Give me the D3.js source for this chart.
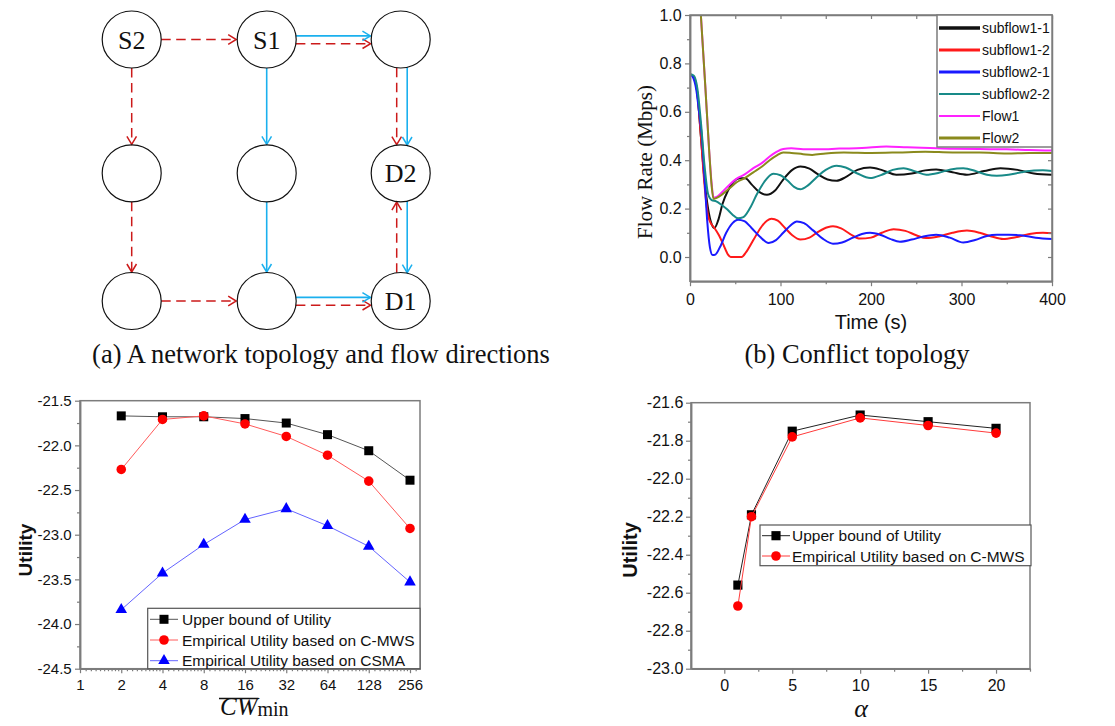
<!DOCTYPE html>
<html>
<head>
<meta charset="utf-8">
<script src="https://cdn.jsdelivr.net/npm/d3@7"></script>
<style>
  body { margin: 0; background: #fff; }
  svg { display: block; }
  text { font-family: "Liberation Sans", Arial, sans-serif; fill: #111; }
  .serif { font-family: "Liberation Serif", "Times New Roman", serif; }
</style>
</head>
<body>
<svg id="fig" width="1115" height="726"></svg>
<script>
// ---- (a) network topology: grid nodes and the two flows' hops
const NODES = [
    { id: "S2", col: 0, row: 0, label: "S2" },
    { id: "S1", col: 1, row: 0, label: "S1" },
    { id: "N3", col: 2, row: 0, label: "" },
    { id: "N4", col: 0, row: 1, label: "" },
    { id: "N5", col: 1, row: 1, label: "" },
    { id: "D2", col: 2, row: 1, label: "D2" },
    { id: "N7", col: 0, row: 2, label: "" },
    { id: "N8", col: 1, row: 2, label: "" },
    { id: "D1", col: 2, row: 2, label: "D1" }
];
const FLOW1_HOPS = [["S1", "N3"], ["N3", "D2"], ["D2", "D1"], ["S1", "N5"], ["N5", "N8"], ["N8", "D1"]];
const FLOW2_HOPS = [["S2", "S1"], ["S1", "N3"], ["N3", "D2"], ["S2", "N4"], ["N4", "N7"], ["N7", "N8"], ["N8", "D1"], ["D1", "D2"]];

// ---- (b) flow rates over time, [seconds, Mbps]
const TIME_TICKS = [0, 100, 200, 300, 400];
const RATE_TICKS = [0, 0.2, 0.4, 0.6, 0.8, 1.0];
const SUBFLOW1_1 = [[0,0.755],[4,0.745],[8,0.68],[12,0.5],[16,0.32],[20,0.2],[24,0.135],[27,0.12],[31,0.15],[36,0.22],[42,0.275],[48,0.31],[55,0.325],[61,0.325],[68,0.3],[76,0.27],[85,0.257],[94,0.275],[103,0.32],[113,0.36],[122,0.374],[132,0.365],[142,0.34],[152,0.32],[162,0.315],[172,0.33],[185,0.36],[199,0.37],[213,0.358],[228,0.34],[245,0.345],[260,0.358],[272,0.362],[290,0.35],[306,0.34],[325,0.355],[343,0.367],[362,0.36],[380,0.345],[400,0.34]];
const SUBFLOW1_2 = [[0,0.755],[4,0.745],[8,0.68],[12,0.5],[16,0.3],[20,0.17],[23,0.14],[27,0.12],[32,0.09],[37,0.05],[42,0.01],[45,0],[57,0],[62,0.02],[70,0.07],[78,0.12],[85,0.15],[90,0.158],[97,0.15],[105,0.12],[113,0.09],[122,0.072],[132,0.08],[142,0.105],[152,0.123],[158,0.127],[167,0.118],[177,0.095],[188,0.076],[200,0.08],[212,0.1],[225,0.115],[238,0.108],[250,0.09],[261,0.078],[275,0.085],[290,0.1],[306,0.109],[320,0.1],[333,0.085],[346,0.074],[360,0.082],[375,0.095],[390,0.1],[400,0.098]];
const SUBFLOW2_1 = [[0,0.755],[3,0.745],[7,0.69],[10,0.6],[13,0.5],[16,0.33],[19,0.15],[22,0.04],[25,0.008],[28,0.01],[33,0.04],[40,0.1],[47,0.14],[53,0.154],[60,0.148],[68,0.12],[77,0.085],[87,0.058],[95,0.07],[103,0.1],[111,0.13],[118,0.147],[126,0.14],[136,0.11],[147,0.075],[158,0.055],[168,0.06],[180,0.08],[190,0.095],[199,0.1],[210,0.092],[221,0.075],[232,0.063],[245,0.072],[258,0.085],[272,0.092],[287,0.08],[302,0.06],[315,0.07],[328,0.087],[339,0.092],[352,0.092],[365,0.09],[382,0.08],[400,0.074]];
const SUBFLOW2_2 = [[0,0.755],[4,0.75],[8,0.7],[12,0.56],[16,0.38],[20,0.26],[24,0.235],[29,0.23],[35,0.215],[41,0.197],[47,0.175],[53,0.16],[59,0.165],[66,0.2],[74,0.26],[82,0.31],[92,0.344],[100,0.338],[108,0.315],[115,0.29],[122,0.28],[130,0.295],[140,0.33],[150,0.36],[162,0.377],[172,0.37],[185,0.345],[199,0.326],[212,0.34],[224,0.36],[236,0.367],[248,0.355],[261,0.34],[275,0.348],[288,0.362],[302,0.367],[316,0.355],[328,0.34],[339,0.336],[352,0.34],[366,0.35],[380,0.357],[390,0.358],[400,0.355]];
const FLOW1 = [[0,1.65],[6,1.32],[12,1.0],[17,0.7],[21,0.45],[24,0.3],[26,0.245],[30,0.25],[36,0.27],[44,0.3],[52,0.325],[60,0.34],[70,0.367],[80,0.39],[88,0.415],[96,0.435],[103,0.446],[112,0.449],[125,0.445],[144,0.445],[165,0.448],[190,0.45],[217,0.457],[240,0.453],[265,0.45],[291,0.447],[320,0.446],[350,0.445],[375,0.442],[400,0.44]];
const FLOW2 = [[0,1.65],[6,1.32],[12,1.0],[17,0.7],[21,0.45],[24,0.29],[26,0.24],[30,0.245],[36,0.26],[44,0.285],[52,0.31],[60,0.325],[70,0.35],[80,0.375],[88,0.4],[96,0.42],[103,0.432],[112,0.43],[125,0.425],[135,0.422],[150,0.428],[170,0.432],[200,0.43],[230,0.432],[260,0.435],[290,0.432],[320,0.432],[350,0.428],[375,0.43],[400,0.43]];
const RATE_SERIES = ["subflow1-1", "subflow1-2", "subflow2-1", "subflow2-2", "Flow1", "Flow2"];

// ---- (c) utility vs CWmin
const CW_VALUES = [2, 4, 8, 16, 32, 64, 128, 256];
const CW_TICKS = [1, 2, 4, 8, 16, 32, 64, 128, 256];
const CW_UPPER = [-21.67, -21.68, -21.68, -21.70, -21.75, -21.88, -22.06, -22.39];
const CW_CMWS = [-22.27, -21.71, -21.67, -21.76, -21.90, -22.11, -22.40, -22.93];
const CW_CSMA = [-23.84, -23.43, -23.11, -22.83, -22.71, -22.90, -23.13, -23.53];
const UTIL_TICKS_C = [-24.5, -24.0, -23.5, -23.0, -22.5, -22.0, -21.5];

// ---- (d) utility vs alpha
const ALPHA_VALUES = [1, 2, 5, 10, 15, 20];
const ALPHA_TICKS = [0, 5, 10, 15, 20];
const ALPHA_UPPER = [-22.56, -22.19, -21.75, -21.665, -21.70, -21.735];
const ALPHA_CMWS = [-22.67, -22.20, -21.78, -21.68, -21.72, -21.76];
const UTIL_TICKS_D = [-23.0, -22.8, -22.6, -22.4, -22.2, -22.0, -21.8, -21.6];

const LEGEND_C = ["Upper bound of Utility", "Empirical Utility based on C-MWS", "Empirical Utility based on CSMA"];

const svg = d3.select("#fig");
svg.append("rect").attr("width", 1115).attr("height", 726).attr("fill", "#fff");

const RED = "#cc1a1a", BLUE = "#1bb0ee", AXIS = "#7c7c7c";

// ================= (a) =================
const gA = svg.append("g");
const colX = d3.scaleLinear().domain([0, 1, 2]).range([131.7, 266.7, 400.7]);
const rowY = d3.scaleLinear().domain([0, 1, 2]).range([39.5, 173.3, 301]);
const rX = 29.5, rY = 28.5;

const defs = svg.append("defs");
[["arrRed", RED], ["arrBlue", BLUE]].forEach(([id, c]) => {
    defs.append("marker").attr("id", id).attr("markerUnits", "userSpaceOnUse")
        .attr("viewBox", "-10 -6 12 12").attr("refX", 0).attr("refY", 0)
        .attr("markerWidth", 12).attr("markerHeight", 12).attr("orient", "auto")
        .append("path").attr("d", "M-8,-4.8L0,0L-8,4.8")
        .attr("fill", "none").attr("stroke", c).attr("stroke-width", 1.5);
});

const byId = new Map(NODES.map(n => [n.id, n]));
const key = (a, b) => [a, b].sort().join("|");
const shared = new Set(FLOW1_HOPS.map(h => key(h[0], h[1])).filter(k => FLOW2_HOPS.some(h => key(h[0], h[1]) === k)));

function hopLine(h, flow) {
    const a = byId.get(h[0]), b = byId.get(h[1]);
    const ax = colX(a.col), ay = rowY(a.row), bx = colX(b.col), by = rowY(b.row);
    const horiz = a.row === b.row;
    let off = 0;
    if (shared.has(key(h[0], h[1]))) {
        off = horiz ? (flow === 1 ? -3.6 : 4.2) : (flow === 1 ? 6.5 : -4);
    }
    if (horiz) {
        const s = Math.sign(bx - ax), d = rX * Math.sqrt(1 - (off * off) / (rY * rY));
        return [ax + s * d, ay + off, bx - s * (d + 1), by + off];
    }
    const s = Math.sign(by - ay), d = rY * Math.sqrt(1 - (off * off) / (rX * rX));
    return [ax + off, ay + s * d, bx + off, by - s * (d + 0.5)];
}

gA.selectAll("line.f2").data(FLOW2_HOPS).join("line").attr("class", "f2")
    .each(function (h) {
        const [x1, y1, x2, y2] = hopLine(h, 2);
        d3.select(this).attr("x1", x1).attr("y1", y1).attr("x2", x2).attr("y2", y2);
    })
    .attr("stroke", RED).attr("stroke-width", 1.5).attr("stroke-dasharray", "9.5,5.5")
    .attr("marker-end", "url(#arrRed)");

gA.selectAll("line.f1").data(FLOW1_HOPS).join("line").attr("class", "f1")
    .each(function (h) {
        const [x1, y1, x2, y2] = hopLine(h, 1);
        d3.select(this).attr("x1", x1).attr("y1", y1).attr("x2", x2).attr("y2", y2);
    })
    .attr("stroke", BLUE).attr("stroke-width", 1.6)
    .attr("marker-end", "url(#arrBlue)");

const node = gA.selectAll("g.node").data(NODES).join("g").attr("class", "node")
    .attr("transform", d => `translate(${colX(d.col)},${rowY(d.row)})`);
node.append("ellipse").attr("rx", rX).attr("ry", rY)
    .attr("fill", "none").attr("stroke", "#111").attr("stroke-width", 1.2);
node.append("text").attr("class", "serif").attr("text-anchor", "middle")
    .attr("y", 9).attr("font-size", 26).text(d => d.label);

svg.append("text").attr("class", "serif").attr("x", 321).attr("y", 363)
    .attr("text-anchor", "middle").attr("font-size", 26.5)
    .text("(a) A network topology and flow directions");
svg.append("text").attr("class", "serif").attr("x", 857).attr("y", 363)
    .attr("text-anchor", "middle").attr("font-size", 26.5)
    .text("(b) Conflict topology");

// ================= axis helper =================
function styleAxis(sel, size) {
    sel.select(".domain").attr("stroke", AXIS).attr("stroke-width", 1.5);
    sel.selectAll(".tick line").attr("stroke", AXIS).attr("stroke-width", 1.2);
    sel.selectAll(".tick text").attr("font-size", size).attr("fill", "#151515")
        .attr("font-family", "'Liberation Sans', Arial, sans-serif");
}

function frame(g, x, y, c) {
    const [x0, x1] = x.range(), [y0, y1] = y.range();
    // box
    g.append("rect").attr("x", x0).attr("y", y1).attr("width", x1 - x0).attr("height", y0 - y1)
        .attr("fill", "none").attr("stroke", AXIS).attr("stroke-width", 1.5);
    const bm = g.append("g").attr("transform", `translate(0,${y0})`)
        .call(d3.axisBottom(x).tickValues(c.xMinor).tickSize(c.xMinorSize).tickSizeOuter(0).tickFormat(""));
    styleAxis(bm, c.font);
    const bx = g.append("g").attr("transform", `translate(0,${y0})`)
        .call(d3.axisBottom(x).tickValues(c.xMajor).tickSize(c.xMajorSize).tickSizeOuter(0)
            .tickPadding(c.xPad).tickFormat(c.xFmt));
    styleAxis(bx, c.font);
    const lm = g.append("g").attr("transform", `translate(${x0},0)`)
        .call(d3.axisLeft(y).tickValues(c.yMinor).tickSize(c.yMinorSize).tickSizeOuter(0).tickFormat(""));
    styleAxis(lm, c.font);
    const ly = g.append("g").attr("transform", `translate(${x0},0)`)
        .call(d3.axisLeft(y).tickValues(c.yMajor).tickSize(5).tickSizeOuter(0)
            .tickPadding(c.yPad).tickFormat(c.yFmt));
    styleAxis(ly, c.font);
    if (c.mirror) {
        const tp = g.append("g").attr("transform", `translate(0,${y1})`)
            .call(d3.axisTop(x).tickValues(c.xMajor.concat(c.xMinor)).tickSize(-4).tickSizeOuter(0).tickFormat(""));
        styleAxis(tp, c.font);
        const rt = g.append("g").attr("transform", `translate(${x1},0)`)
            .call(d3.axisRight(y).tickValues(c.yMajor.concat(c.yMinor)).tickSize(-4).tickSizeOuter(0).tickFormat(""));
        styleAxis(rt, c.font);
    }
}

// ================= (b) =================
const gB = svg.append("g");
const bX = d3.scaleLinear().domain([0, 400]).range([690, 1052]);
const bY = d3.scaleLinear().domain([-0.1, 1.0]).range([281.2, 15]);

defs.append("clipPath").attr("id", "clipB").append("rect")
    .attr("x", 690).attr("y", 15).attr("width", 362).attr("height", 266.2);

const rateData = [SUBFLOW1_1, SUBFLOW1_2, SUBFLOW2_1, SUBFLOW2_2, FLOW1, FLOW2];
const rateColors = ["#111111", "#ff1a1a", "#1a1aff", "#188a88", "#ff22ff", "#8a8a1c"];
const legendWidths = [3.5, 3.2, 3, 2.2, 2.2, 3.2];
const rateLine = d3.line().x(d => bX(d[0])).y(d => bY(d[1])).curve(d3.curveMonotoneX);

gB.append("g").attr("clip-path", "url(#clipB)").selectAll("path")
    .data(rateData).join("path")
    .attr("d", rateLine).attr("fill", "none")
    .attr("stroke", (d, i) => rateColors[i]).attr("stroke-width", 2);

frame(gB, bX, bY, {
    xMajor: TIME_TICKS, xMinor: [50, 150, 250, 350], xMajorSize: 5, xMinorSize: 3, xPad: 7.4,
    xFmt: d => d3.format("d")(d),
    yMajor: RATE_TICKS, yMinor: [0.1, 0.3, 0.5, 0.7, 0.9], yMinorSize: 3, yPad: 3.3,
    yFmt: d => d.toFixed(1), font: 16, mirror: true
});

const legB = gB.append("g");
legB.append("rect").attr("x", 937).attr("y", 15).attr("width", 115).attr("height", 132)
    .attr("fill", "#fff").attr("stroke", AXIS).attr("stroke-width", 1.5);
const legBRow = d3.scalePoint().domain(RATE_SERIES).range([28, 138]);
RATE_SERIES.forEach((name, i) => {
    legB.append("line").attr("x1", 939).attr("x2", 980)
        .attr("y1", legBRow(name)).attr("y2", legBRow(name))
        .attr("stroke", rateColors[i]).attr("stroke-width", legendWidths[i]);
    legB.append("text").attr("x", 982).attr("y", legBRow(name) + 5)
        .attr("font-size", 14).text(name);
});

gB.append("text").attr("x", 871).attr("y", 329).attr("text-anchor", "middle")
    .attr("font-size", 20).text("Time (s)");
gB.append("text").attr("class", "serif").attr("transform", "translate(652,162) rotate(-90)")
    .attr("text-anchor", "middle").attr("font-size", 21).text("Flow Rate (Mbps)");

// ================= (c) =================
const gC = svg.append("g");
const cX = d3.scaleLog().base(2).domain([1, Math.pow(2, 340 / 41.25)]).range([80, 420]);
const cY = d3.scaleLinear().domain([-24.5, -21.5]).range([668.7, 400.7]);

const cwMinor = [];
CW_TICKS.forEach(b => { for (let k = 1; k < 10; k++) if (b * (1 + k / 10) < cX.domain()[1]) cwMinor.push(b * (1 + k / 10)); });

frame(gC, cX, cY, {
    xMajor: CW_TICKS, xMinor: cwMinor, xMajorSize: 4.5, xMinorSize: 2.5, xPad: 6.2,
    xFmt: d => String(d),
    yMajor: UTIL_TICKS_C, yMinor: [-24.25, -23.75, -23.25, -22.75, -22.25, -21.75], yMinorSize: 3, yPad: 3.3,
    yFmt: d => d.toFixed(1), font: 15, mirror: false
});

const utilC = [
    { vals: CW_UPPER, line: "#555", mark: "#000", sym: d3.symbolSquare, size: 81 },
    { vals: CW_CMWS, line: "#ff5a5a", mark: "#ff0000", sym: d3.symbolCircle, size: 72 },
    { vals: CW_CSMA, line: "#6464ff", mark: "#0000ff", sym: d3.symbolTriangle, size: 58 }
];
const lineC = d3.line().x(d => cX(d[0])).y(d => cY(d[1]));
utilC.forEach(s => {
    const pts = CW_VALUES.map((v, i) => [v, s.vals[i]]);
    gC.append("path").attr("d", lineC(pts)).attr("fill", "none").attr("stroke", s.line).attr("stroke-width", 1);
    gC.selectAll(null).data(pts).join("path")
        .attr("transform", d => `translate(${cX(d[0])},${cY(d[1])})`)
        .attr("d", d3.symbol(s.sym, s.size)).attr("fill", s.mark);
});

const legC = gC.append("g");
legC.append("rect").attr("x", 147.7).attr("y", 608.3).attr("width", 272.3).attr("height", 60.4)
    .attr("fill", "#fff").attr("stroke", "#555").attr("stroke-width", 1.2);
const legCRow = d3.scalePoint().domain(LEGEND_C).range([619.3, 660.7]);
LEGEND_C.forEach((name, i) => {
    const y = legCRow(name);
    legC.append("line").attr("x1", 150).attr("x2", 178).attr("y1", y).attr("y2", y)
        .attr("stroke", utilC[i].line).attr("stroke-width", 1);
    legC.append("path").attr("transform", `translate(164,${y})`)
        .attr("d", d3.symbol(utilC[i].sym, utilC[i].size)).attr("fill", utilC[i].mark);
    legC.append("text").attr("x", 182).attr("y", y + 5.5).attr("font-size", 15.5).text(name);
});

gC.append("text").attr("transform", "translate(32,550) rotate(-90)").attr("text-anchor", "middle")
    .attr("font-size", 19).attr("font-weight", "bold").text("Utility");

const cwLabel = gC.append("text").attr("class", "serif").attr("x", 220).attr("y", 715);
const cwPart = cwLabel.append("tspan").attr("font-style", "italic").attr("font-size", 25).text("CW");
cwLabel.append("tspan").attr("font-size", 20).attr("dy", 1).text("min");
const cwLen = cwPart.node().getComputedTextLength();
gC.append("line").attr("x1", 219).attr("x2", 220 + cwLen + 1).attr("y1", 698.5).attr("y2", 698.5)
    .attr("stroke", "#111").attr("stroke-width", 1.3);

// ================= (d) =================
const gD = svg.append("g");
const dX = d3.scaleLinear().domain([-2.45, 22.5]).range([691, 1030]);
const dY = d3.scaleLinear().domain([-23.0, -21.6]).range([668.7, 402.7]);

frame(gD, dX, dY, {
    xMajor: ALPHA_TICKS, xMinor: [-2.5, 2.5, 7.5, 12.5, 17.5, 22.5].filter(v => v >= dX.domain()[0]),
    xMajorSize: 5, xMinorSize: 3, xPad: 6.4, xFmt: d => String(d),
    yMajor: UTIL_TICKS_D, yMinor: [-22.9, -22.7, -22.5, -22.3, -22.1, -21.9, -21.7], yMinorSize: 3, yPad: 2.7,
    yFmt: d => d.toFixed(1), font: 16, mirror: false
});

const utilD = [
    { name: "Upper bound of Utility", vals: ALPHA_UPPER, line: "#222", mark: "#000", sym: d3.symbolSquare, size: 84 },
    { name: "Empirical Utility based on C-MWS", vals: ALPHA_CMWS, line: "#ff3a3a", mark: "#ff0000", sym: d3.symbolCircle, size: 72 }
];
const lineD = d3.line().x(d => dX(d[0])).y(d => dY(d[1]));
utilD.forEach(s => {
    const pts = ALPHA_VALUES.map((v, i) => [v, s.vals[i]]);
    gD.append("path").attr("d", lineD(pts)).attr("fill", "none").attr("stroke", s.line).attr("stroke-width", 1);
    gD.selectAll(null).data(pts).join("path")
        .attr("transform", d => `translate(${dX(d[0])},${dY(d[1])})`)
        .attr("d", d3.symbol(s.sym, s.size)).attr("fill", s.mark);
});

const legD = gD.append("g");
legD.append("rect").attr("x", 760).attr("y", 525).attr("width", 271).attr("height", 40.7)
    .attr("fill", "#fff").attr("stroke", "#555").attr("stroke-width", 1.2);
const legDRow = d3.scalePoint().domain(utilD.map(s => s.name)).range([535.7, 556]);
utilD.forEach(s => {
    const y = legDRow(s.name);
    legD.append("line").attr("x1", 762).attr("x2", 790).attr("y1", y).attr("y2", y)
        .attr("stroke", s.line).attr("stroke-width", 1);
    legD.append("path").attr("transform", `translate(776,${y})`)
        .attr("d", d3.symbol(s.sym, s.size)).attr("fill", s.mark);
    legD.append("text").attr("x", 792).attr("y", y + 5.5).attr("font-size", 15.5).text(s.name);
});

gD.append("text").attr("transform", "translate(637,550) rotate(-90)").attr("text-anchor", "middle")
    .attr("font-size", 20).attr("font-weight", "bold").text("Utility");
gD.append("text").attr("class", "serif").attr("x", 861).attr("y", 717).attr("text-anchor", "middle")
    .attr("font-size", 26).attr("font-style", "italic").text("α");
</script>
</body>
</html>
